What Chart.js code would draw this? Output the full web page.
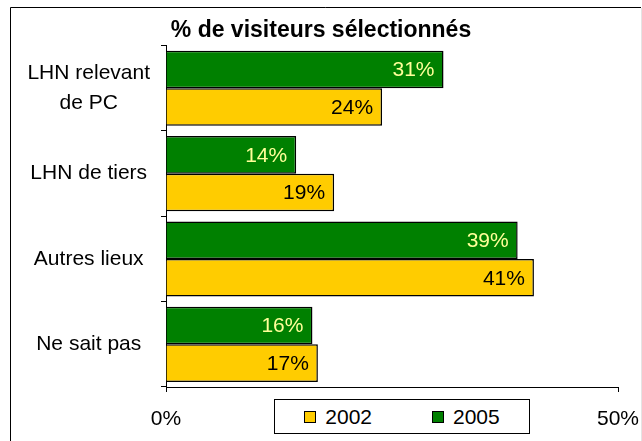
<!DOCTYPE html>
<html>
<head>
<meta charset="utf-8">
<script src="https://cdn.jsdelivr.net/npm/chart.js@4/dist/chart.umd.min.js"></script>
<style>
  html, body { margin: 0; padding: 0; background: #fff; }
  #wrap { position: relative; width: 642px; height: 441px; }
  #legend {
    position: absolute; left: 274px; top: 399px; width: 254px; height: 33px;
    border: 1px solid #000; background: #fff;
    display: flex; align-items: center; justify-content: center; gap: 60px;
    font-family: "Liberation Sans", Arial, sans-serif; font-size: 21px; color: #000;
  }
  #legend .item { display: flex; align-items: center; }
  #legend .sw { width: 10px; height: 10px; border: 1px solid #000; margin-right: 9px; }
</style>
</head>
<body>
<div id="wrap">
  <canvas id="visiteursChart" width="642" height="441"></canvas>
  <div id="legend"></div>
</div>
<script>
const categories = [['LHN relevant', 'de PC'], 'LHN de tiers', 'Autres lieux', 'Ne sait pas'];
const values2005 = [30.7, 14.4, 38.9, 16.2];
const values2002 = [23.9, 18.6, 40.7, 16.8];
const xTicks = [0, 50];

const green = '#008000';
const yellow = '#FFCC00';

Chart.defaults.font.family = '"Liberation Sans", Arial, sans-serif';
Chart.defaults.color = '#000';

// frame round the chart
const framePlugin = {
    id: 'frame',
    beforeDraw(chart) {
        const ctx = chart.ctx;
        ctx.save();
        ctx.strokeStyle = '#000';
        ctx.lineWidth = 1;
        ctx.beginPath();
        ctx.moveTo(10.5, 441);
        ctx.lineTo(10.5, 7.5);
        ctx.lineTo(641, 7.5);
        ctx.stroke();
        ctx.strokeStyle = '#e4e4e4';
        ctx.beginPath();
        ctx.moveTo(641.5, 8);
        ctx.lineTo(641.5, 441);
        ctx.stroke();
        ctx.restore();
    }
};

// value labels inside the bar ends
const valueLabels = {
    id: 'valueLabels',
    afterDatasetsDraw(chart) {
        const ctx = chart.ctx;
        ctx.save();
        ctx.font = '21px "Liberation Sans", Arial, sans-serif';
        ctx.textAlign = 'right';
        ctx.textBaseline = 'middle';
        chart.data.datasets.forEach((ds, i) => {
            ctx.fillStyle = ds.labelColor;
            chart.getDatasetMeta(i).data.forEach((bar, j) => {
                ctx.fillText(Math.round(ds.data[j]) + '%', bar.x - 9, bar.y + 1);
            });
        });
        ctx.restore();
    }
};

const ctx = document.getElementById('visiteursChart').getContext('2d');
const chart = new Chart(ctx, {
    type: 'bar',
    data: {
        labels: categories,
        datasets: [{
            label: '2005',
            data: values2005,
            backgroundColor: green,
            borderColor: '#000',
            borderWidth: 1.5,
            labelColor: '#FFFF99',
            categoryPercentage: 0.88,
            barPercentage: 1.0
        }, {
            label: '2002',
            data: values2002,
            backgroundColor: yellow,
            borderColor: '#000',
            borderWidth: 1.5,
            labelColor: '#000',
            categoryPercentage: 0.88,
            barPercentage: 1.0
        }]
    },
    options: {
        indexAxis: 'y',
        responsive: false,
        animation: false,
        layout: {
            padding: { left: 10, right: 10, top: 0, bottom: 0 }
        },
        plugins: {
            legend: { display: false },
            tooltip: { enabled: false },
            title: {
                display: true,
                text: '% de visiteurs sélectionnés',
                color: '#000',
                font: { size: 23, weight: 'bold' },
                padding: { top: 17, bottom: 1 }
            }
        },
        scales: {
            x: {
                min: 0,
                max: 50,
                afterBuildTicks(scale) {
                    scale.ticks = xTicks.map(v => ({ value: v }));
                },
                afterFit(scale) {
                    scale.paddingRight = 24;
                    scale.height = 54;
                },
                ticks: {
                    font: { size: 21 },
                    padding: 15,
                    callback: v => v + '%'
                },
                grid: {
                    drawOnChartArea: false,
                    tickLength: 5,
                    color: '#000'
                },
                border: { color: '#000', width: 1 }
            },
            y: {
                afterFit(scale) {
                    scale.width = 156;
                },
                ticks: {
                    font: { size: 21, lineHeight: 1.45 },
                    padding: 11,
                    crossAlign: 'center'
                },
                grid: {
                    offset: true,
                    drawOnChartArea: false,
                    tickLength: 5,
                    color: '#000'
                },
                border: { color: '#000', width: 1 }
            }
        }
    },
    plugins: [framePlugin, valueLabels]
});

// legend box, 2002 first as in the original
const legendEl = document.getElementById('legend');
chart.data.datasets.slice().reverse().forEach(ds => {
    const item = document.createElement('div');
    item.className = 'item';
    const sw = document.createElement('span');
    sw.className = 'sw';
    sw.style.background = ds.backgroundColor;
    const txt = document.createElement('span');
    txt.textContent = ds.label;
    item.appendChild(sw);
    item.appendChild(txt);
    legendEl.appendChild(item);
});
</script>
</body>
</html>
